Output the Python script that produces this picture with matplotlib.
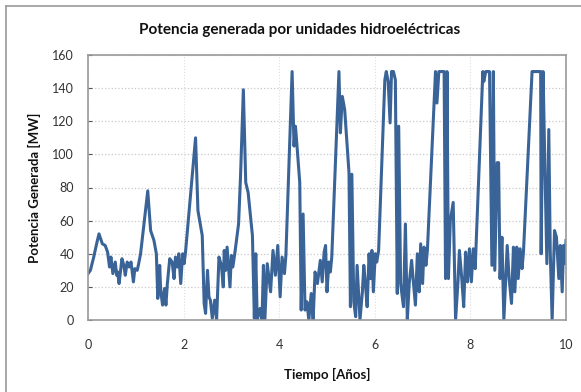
import matplotlib
matplotlib.use("Agg")
import matplotlib.pyplot as plt
from matplotlib.lines import Line2D

plt.rcParams['font.family'] = ['Lato', 'DejaVu Sans']

title = "Potencia generada por unidades hidroeléctricas"
xlabel = "Tiempo [Años]"
ylabel = "Potencia Generada [MW]"
xticks = [0, 2, 4, 6, 8, 10]
yticks = [0, 20, 40, 60, 80, 100, 120, 140, 160]

tiempo = [0.00, 0.05, 0.12, 0.18, 0.23, 0.30, 0.36, 0.41, 0.45, 0.48, 0.52, 0.57, 0.60, 0.62, 0.65,
          0.71, 0.75, 0.78, 0.82, 0.86, 0.90, 0.95, 0.98, 1.03, 1.06, 1.10, 1.25,
          1.31, 1.38, 1.43, 1.46, 1.50, 1.52, 1.56, 1.60, 1.63, 1.66, 1.71, 1.76, 1.80, 1.83,
          1.87, 1.90, 1.94, 1.98, 2.01, 2.04, 2.25, 2.30, 2.39, 2.43,
          2.46, 2.50, 2.53, 2.56, 2.60, 2.65, 2.69, 2.74, 2.79, 2.83, 2.85, 2.88, 2.91, 2.94,
          2.97, 3.00, 3.03, 3.07, 3.15, 3.19, 3.25, 3.30, 3.35, 3.44, 3.48, 3.51, 3.54, 3.60,
          3.64, 3.67, 3.70, 3.75, 3.82, 3.87, 3.92, 3.97, 4.02, 4.06, 4.11, 4.14, 4.27,
          4.31, 4.34, 4.37, 4.43, 4.46, 4.50, 4.54, 4.58, 4.62, 4.67, 4.71, 4.75, 4.80, 4.86,
          4.90, 4.94, 4.97, 5.00, 5.04, 5.07, 5.10, 5.25, 5.28, 5.32, 5.37, 5.46, 5.49,
          5.52, 5.56, 5.60, 5.63, 5.69, 5.74, 5.77, 5.80, 5.84, 5.88, 5.91, 5.94, 5.97, 6.01,
          6.04, 6.08, 6.21, 6.24, 6.28, 6.32, 6.35, 6.39, 6.43, 6.47, 6.50, 6.54, 6.60,
          6.64, 6.68, 6.72, 6.77, 6.81, 6.85, 6.89, 6.93, 6.96, 7.00, 7.03, 7.07, 7.10, 7.27,
          7.30, 7.34, 7.41, 7.45, 7.48, 7.51, 7.54, 7.58, 7.64, 7.69, 7.74, 7.77, 7.82, 7.86,
          7.90, 7.94, 7.98, 8.02, 8.06, 8.10, 8.26, 8.28, 8.32, 8.40, 8.45, 8.48, 8.51, 8.56,
          8.59, 8.62, 8.66, 8.70, 8.77, 8.81, 8.86, 8.90, 8.93, 8.97, 9.00, 9.04, 9.08, 9.11,
          9.29, 9.47, 9.48, 9.52, 9.56, 9.60, 9.64, 9.67, 9.71, 9.76, 9.80, 9.85, 9.88, 9.92,
          9.95, 9.98, 10.00]
potencia = [28, 30, 38, 46, 52, 46, 45, 41, 32, 38, 28, 35, 27, 29, 22,
            37, 33, 27, 35, 32, 35, 23, 31, 30, 34, 40, 78,
            54, 48, 40, 13, 33, 18, 9, 19, 9, 22, 37, 35, 25, 38,
            32, 40, 22, 40, 34, 41, 110, 66, 51, 10,
            4, 30, 14, 12, 1, 12, 0, 38, 33, 20, 42, 30, 44, 32,
            20, 39, 32, 40, 58, 86, 139, 83, 77, 51, 1, 40, 0, 7,
            0, 33, 0, 34, 17, 42, 27, 45, 14, 38, 28, 39, 150,
            105, 117, 106, 83, 6, 64, 6, 11, 0, 16, 0, 29, 22, 36,
            23, 41, 45, 17, 35, 29, 38, 150, 113, 135, 127, 89, 8,
            88, 11, 2, 33, 0, 17, 33, 23, 8, 40, 25, 42, 17, 40,
            35, 42, 145, 150, 144, 119, 150, 150, 145, 16, 117, 22, 8,
            58, 0, 22, 36, 22, 9, 40, 17, 46, 22, 44, 33, 42, 150,
            131, 150, 150, 150, 25, 150, 25, 60, 71, 0, 23, 42, 25, 8,
            41, 23, 43, 23, 43, 31, 150, 144, 150, 150, 33, 150, 30, 95,
            95, 25, 50, 0, 45, 25, 10, 44, 17, 44, 25, 43, 31, 41,
            150, 150, 40, 150, 90, 34, 115, 42, 0, 54, 50, 25, 45, 17,
            45, 34, 48]

W, H = 581, 392
fig = plt.figure(figsize=(W / 100, H / 100), dpi=100)
ax = fig.add_axes([88 / W, 1 - 320 / H, (566 - 88) / W, (320 - 55) / H])

ax.plot(tiempo, potencia, color='#3A6497', linewidth=2.2, solid_joinstyle='round')

ax.set_xlim(0, 10)
ax.set_ylim(0, 160)
ax.set_xticks(xticks)
ax.set_yticks(yticks)
ax.tick_params(axis='x', length=0, pad=14, labelsize=9, colors='#333333')
ax.tick_params(axis='y', direction='in', length=3, pad=10, labelsize=9, colors='#333333')
ax.tick_params(axis='y', color='#555555')
for s in ax.spines.values():
    s.set_color('#9a9a9a')
    s.set_linewidth(1.2)

ax.grid(axis='y', linestyle=':', color='#c8c8c8', linewidth=0.9)
ax.grid(axis='x', linestyle=':', color='#dddddd', linewidth=0.8)
ax.set_axisbelow(True)

ax.set_xlabel(xlabel, fontsize=9.5, fontweight='bold', labelpad=12, color='#111111')
ax.set_ylabel(ylabel, fontsize=9.5, fontweight='bold', labelpad=8, color='#111111')
fig.text(300 / W, 1 - 30 / H, title, ha='center', va='center', fontsize=11,
         fontweight='bold', color='#111111')

# outer chart frame
fig.add_artist(Line2D([6 / W, 6 / W], [0, 1 - 6 / H], color='#9a9a9a', lw=1.2, transform=fig.transFigure))
fig.add_artist(Line2D([6 / W, 1], [1 - 6 / H, 1 - 6 / H], color='#9a9a9a', lw=1.2, transform=fig.transFigure))

fig.savefig('out.png', dpi=100)
